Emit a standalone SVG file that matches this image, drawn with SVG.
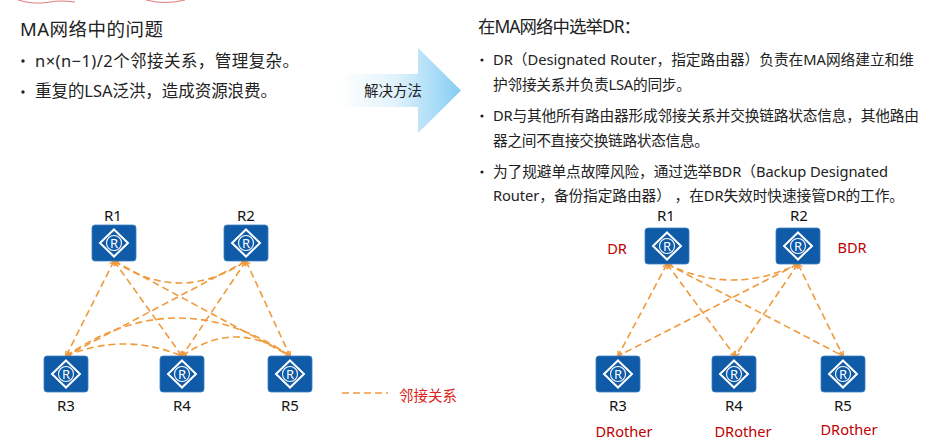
<svg xmlns="http://www.w3.org/2000/svg" width="944" height="440" viewBox="0 0 944 440">
<style>
text{font-family:"Noto Sans","Noto Sans CJK SC",sans-serif;fill:#222}
.h{font-size:18.5px}
.h2{font-size:17.4px}
.b{font-size:16.5px}
.c{font-size:14.7px}
.r{font-size:15px;fill:#111}
.red{font-size:14.6px;fill:#c00000}
.rt{fill:#0f5ba8;stroke:#3a7fc0;stroke-width:.8}
.dm{fill:none;stroke:#fff;stroke-width:2}
.rc{fill:none;stroke:#fff;stroke-width:1.1}
.lk{fill:none;stroke:#f09a3e;stroke-width:1.6;stroke-dasharray:7 4;marker-start:url(#s);marker-end:url(#e)}
.scr{fill:none;stroke:#e27a7a;stroke-width:1}
</style>
<defs>
<marker id="e" markerWidth="8" markerHeight="8" refX="6" refY="4" orient="auto" markerUnits="userSpaceOnUse"><path d="M1.500 1.500L6 4L1.500 6.500" fill="none" stroke="#f09a3e" stroke-width="1.4"/></marker>
<marker id="s" markerWidth="8" markerHeight="8" refX="2" refY="4" orient="auto" markerUnits="userSpaceOnUse"><path d="M6.500 1.500L2 4L6.500 6.500" fill="none" stroke="#f09a3e" stroke-width="1.4"/></marker>
<linearGradient id="g" x1="0" x2="1" y1="0" y2="0"><stop offset="0" stop-color="#fff"/><stop offset=".45" stop-color="#e2f3fc"/><stop offset="1" stop-color="#84cdf3"/></linearGradient>
<g id="rtr"><rect class="rt" x="-22" y="-18" width="44" height="36" rx="3"/><path class="dm" d="M0-13.500L14 0L0 13.500L-14 0Z"/><circle class="rc" cx="0" cy="0" r="7.500"/><text x="0" y="4.800" text-anchor="middle" style="font-size:13px;fill:#fff">R</text></g>
</defs>
<rect width="944" height="440" fill="#fff"/>
<g id="scribble"><path class="scr" d="M18 0Q34 5 50 2Q60 0 75 2"/><path class="scr" d="M146 0Q165 5 185 0"/></g>
<g id="left-text">
<text class="h" x="20" y="36" textLength="143">MA网络中的问题</text>
<circle cx="23" cy="61" r="1.700" fill="#222"/><text class="b" x="35" y="67" textLength="264">n×(n−1)/2个邻接关系，管理复杂。</text>
<circle cx="23" cy="92" r="1.700" fill="#222"/><text class="b" x="35" y="97" textLength="242">重复的LSA泛洪，造成资源浪费。</text>
</g>
<g id="arrow"><path d="M340 74H418V48L461 90.500L418 133V107H340Z" fill="url(#g)"/><text x="393" y="96" text-anchor="middle" style="font-size:14.500px">解决方法</text></g>
<g id="right-text">
<text class="h2" x="478" y="32.500" textLength="163">在MA网络中选举DR：</text>
<circle cx="482" cy="60" r="1.600" fill="#222"/><text class="c" x="493" y="65" textLength="421">DR（Designated Router，指定路由器）负责在MA网络建立和维</text>
<text class="c" x="493" y="90" textLength="198">护邻接关系并负责LSA的同步。</text>
<circle cx="482" cy="116" r="1.600" fill="#222"/><text class="c" x="493" y="121" textLength="426">DR与其他所有路由器形成邻接关系并交换链路状态信息，其他路由</text>
<text class="c" x="493" y="146" textLength="216">器之间不直接交换链路状态信息。</text>
<circle cx="482" cy="172" r="1.600" fill="#222"/><text class="c" x="493" y="177" textLength="395">为了规避单点故障风险，通过选举BDR（Backup Designated</text>
<text class="c" x="493" y="201" textLength="411">Router，备份指定路由器） ，在DR失效时快速接管DR的工作。</text>
</g>
<g id="connectors">
<path class="lk" d="M114 261L66 356"/><path class="lk" d="M114 261L182 356"/><path class="lk" d="M114 261L290 356"/>
<path class="lk" d="M246 261L66 356"/><path class="lk" d="M246 261L182 356"/><path class="lk" d="M246 261L290 356"/>
<path class="lk" d="M114 261Q180 305 246 261"/>
<path class="lk" d="M66 356Q178 280 290 356"/>
<path class="lk" d="M66 356Q124 332 182 356"/>
<path class="lk" d="M182 356Q236 318 290 356"/>
<path class="lk" d="M667 264L618 356"/><path class="lk" d="M667 264L735 356"/><path class="lk" d="M667 264L843 356"/>
<path class="lk" d="M798 264L618 356"/><path class="lk" d="M798 264L735 356"/><path class="lk" d="M798 264L843 356"/>
<path class="lk" d="M667 264Q732 296 798 264"/>
</g>
<g id="legend"><path d="M342 393H388" fill="none" stroke="#f09a3e" stroke-width="1.600" stroke-dasharray="7 4"/><text x="399" y="400.500" style="font-size:14.500px;fill:#d8261c">邻接关系</text></g>
<g id="L-R1"><use href="#rtr" x="114" y="243"/><text class="r" x="113" y="221" text-anchor="middle">R1</text></g>
<g id="L-R2"><use href="#rtr" x="246" y="243"/><text class="r" x="246" y="221" text-anchor="middle">R2</text></g>
<g id="L-R3"><use href="#rtr" x="66" y="374"/><text class="r" x="66" y="411" text-anchor="middle">R3</text></g>
<g id="L-R4"><use href="#rtr" x="182" y="374"/><text class="r" x="182" y="411" text-anchor="middle">R4</text></g>
<g id="L-R5"><use href="#rtr" x="290" y="374"/><text class="r" x="290" y="411" text-anchor="middle">R5</text></g>
<g id="R-R1"><use href="#rtr" x="667" y="246"/><text class="r" x="666" y="221" text-anchor="middle">R1</text><text class="red" x="617" y="254" text-anchor="middle">DR</text></g>
<g id="R-R2"><use href="#rtr" x="798" y="246"/><text class="r" x="799" y="221" text-anchor="middle">R2</text><text class="red" x="852" y="253" text-anchor="middle">BDR</text></g>
<g id="R-R3"><use href="#rtr" x="618" y="374"/><text class="r" x="618" y="411" text-anchor="middle">R3</text><text class="red" x="624" y="437" text-anchor="middle">DRother</text></g>
<g id="R-R4"><use href="#rtr" x="734" y="374"/><text class="r" x="734" y="411" text-anchor="middle">R4</text><text class="red" x="743" y="437" text-anchor="middle">DRother</text></g>
<g id="R-R5"><use href="#rtr" x="843" y="374"/><text class="r" x="843" y="411" text-anchor="middle">R5</text><text class="red" x="849" y="435" text-anchor="middle">DRother</text></g>
</svg>
